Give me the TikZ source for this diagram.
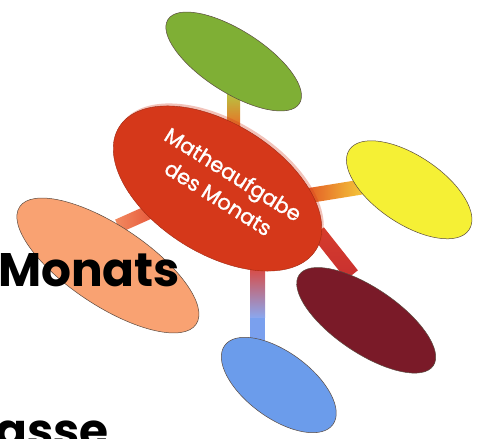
\documentclass[tikz,border=0pt]{standalone}
\usepackage{fontspec}
\newfontfamily\pop{Poppins}
\newfontfamily\popfb{Poppins}[FakeBold=1.2]
\usetikzlibrary{shapes.geometric,calc}
\definecolor{cred}{HTML}{D5381A}
\definecolor{cgreen}{HTML}{7FAF35}
\definecolor{cyellow}{HTML}{F5F035}
\definecolor{cpeach}{HTML}{F9A272}
\definecolor{cmaroon}{HTML}{7A1A28}
\definecolor{cblue}{HTML}{6B9CEB}
\definecolor{edge}{HTML}{5A4A40}
\definecolor{gA}{HTML}{B5C842}
\definecolor{gB}{HTML}{ECC032}
\definecolor{gC}{HTML}{EC6A25}
\definecolor{yA}{HTML}{E04A22}
\definecolor{yB}{HTML}{F7D43C}
\definecolor{pA}{HTML}{F28A60}
\definecolor{pB}{HTML}{E2442C}
\definecolor{bA}{HTML}{E34030}
\definecolor{bB}{HTML}{EA6A78}
\definecolor{bC}{HTML}{8AA8F0}
\definecolor{bD}{HTML}{7AA0EE}
\definecolor{mA}{HTML}{D63C2C}
\definecolor{mB}{HTML}{C83030}
\tikzset{
  blob/.style={ellipse, inner sep=0pt, draw=edge, line width=0.5pt},
  bigtext/.style={font=\pop\bfseries\fontsize{47}{47}\selectfont, text=black, inner sep=0pt, anchor=base west},
}
\begin{document}
\begin{tikzpicture}[x=1pt,y=1pt]
\clip (0,0) rectangle (482,439);
\fill[white] (0,0) rectangle (482,439);
% connector end points
\coordinate (gt) at (233.5,347);
\coordinate (gb) at (233.5,311);
\coordinate (ya) at (300,242);
\coordinate (yb) at (368,253);
\coordinate (pa) at (118,213);
\coordinate (pb) at (165,234);
\coordinate (ba) at (257.5,177);
\coordinate (bm) at (257.5,121);
\coordinate (bb) at (257.5,94);
\coordinate (ma) at (318,207);
\coordinate (mb) at (352,164);
% connectors
\shade[top color=gA, middle color=gB, bottom color=gC]
  ($(gt)+(-6.5,0)$) rectangle ($(gb)+(6.5,0)$);
\shade[left color=yA, right color=yB]
  ($(ya)!7.5pt!90:(yb)$) -- ($(ya)!7.5pt!-90:(yb)$) -- ($(yb)!7.5pt!90:(ya)$) -- ($(yb)!7.5pt!-90:(ya)$) -- cycle;
\shade[left color=pA, right color=pB]
  ($(pa)!7pt!90:(pb)$) -- ($(pa)!7pt!-90:(pb)$) -- ($(pb)!7pt!90:(pa)$) -- ($(pb)!7pt!-90:(pa)$) -- cycle;
\shade[top color=bA, middle color=bB, bottom color=bC]
  ($(ba)+(-7.5,0)$) rectangle ($(bm)+(7.5,0)$);
\fill[bD] ($(bm)+(-7.5,0)$) rectangle ($(bb)+(7.5,0)$);
\shade[top color=mA, bottom color=mB]
  ($(ma)!7.5pt!90:(mb)$) -- ($(ma)!7.5pt!-90:(mb)$) -- ($(mb)!7.5pt!90:(ma)$) -- ($(mb)!7.5pt!-90:(ma)$) -- cycle;
% outer ellipses
\node[blob, fill=cgreen, minimum width=156pt, minimum height=62pt, rotate=-32.6] (green) at (233.7,377.5) {};
\node[blob, fill=cyellow, minimum width=144pt, minimum height=68pt, rotate=-33.8] (yellow) at (409.2,249.2) {};
\node[blob, fill=cpeach, minimum width=212pt, minimum height=80pt, rotate=-33.6] (peach) at (107.9,173.5) {};
\node[blob, fill=cmaroon, minimum width=162pt, minimum height=65pt, rotate=-34.1] (maroon) at (366.2,118.7) {};
\node[blob, fill=cblue, minimum width=134pt, minimum height=66pt, rotate=-36.2] (blue) at (278.8,54) {};
% big text
\node[bigtext] (monats) at (-2,152.3) {Monats};
\node[bigtext] (asse) at (-5,-8.5) {asse};
% central ellipse
\node[ellipse, inner sep=0pt, fill=cred, opacity=0.3, minimum width=232pt, minimum height=130pt, rotate=-32] (halo) at (219.5,253) {};
\node[ellipse, inner sep=0pt, fill=cred, draw=cred!75!black, line width=0.4pt, minimum width=232pt, minimum height=130pt, rotate=-32] (center) at (217.5,250.5) {};
\node[rotate=-32, text=white, align=center, font=\popfb\fontsize{21}{28}\selectfont, inner sep=0pt] (title) at (226,253) {Matheaufgabe\\des Monats};
\end{tikzpicture}
\end{document}
